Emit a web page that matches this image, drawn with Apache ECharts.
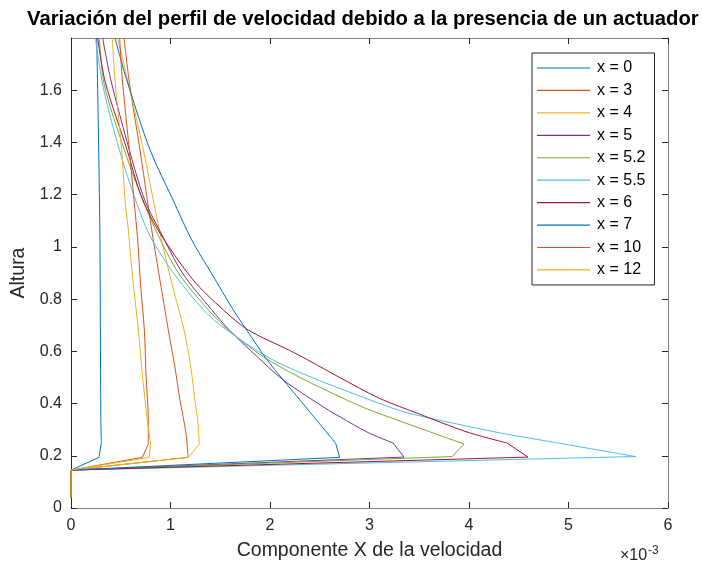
<!DOCTYPE html>
<html><head><meta charset="utf-8">
<script src="https://cdn.jsdelivr.net/npm/echarts@6/dist/echarts.min.js"></script>
<style>html,body{margin:0;padding:0;background:#fff}#c{width:703px;height:566px}</style>
</head><body><div id="c"></div>
<script>
// Velocity (x 1e-3) and height values
const seriesNames = ['x = 0','x = 3','x = 4','x = 5','x = 5.2','x = 5.5','x = 6','x = 7','x = 10','x = 12'];
const colors = ['#0072BD','#D95319','#EDB120','#7E2F8E','#77AC30','#4DBEEE','#A2142F','#0072BD','#D95319','#EDB120'];

const u_x0  = [0,0,0.281,0.305,0.300,0.295,0.290,0.275,0.258];
const h_x0  = [0.04,0.145,0.194,0.248,0.34,0.7,1.06,1.45,1.8];

const u_x3  = [0,0,1.176,1.156,1.095,1.04,0.978,0.827,0.767,0.693,0.59,0.533];
const h_x3  = [0.04,0.145,0.194,0.286,0.414,0.55,0.682,1.027,1.18,1.372,1.62,1.8];

const u_x4  = [0,0,1.18,1.29,1.273,1.245,1.20,1.136,1.02,0.91,0.827,0.727,0.58,0.469];
const h_x4  = [0.04,0.145,0.194,0.245,0.337,0.414,0.55,0.682,0.85,1.027,1.18,1.372,1.62,1.8];

const u_x5  = [0,0,3.347,3.236,2.975,2.704,2.586,2.134,1.87,1.59,1.414,1.12,0.888,0.74,0.586,0.40,0.318];
const h_x5  = [0.04,0.145,0.195,0.249,0.291,0.349,0.375,0.49,0.58,0.682,0.759,0.9,1.065,1.18,1.372,1.64,1.8];

const u_x52 = [0,0,3.83,3.95,3.005,2.77,2.30,1.93,1.58,1.38,1.08,0.85,0.70,0.536,0.335,0.285];
const h_x52 = [0.04,0.145,0.197,0.245,0.375,0.414,0.5,0.58,0.682,0.759,0.9,1.065,1.2,1.372,1.62,1.8];

const u_x55 = [0,0,5.675,4.91,4.28,3.47,3.29,3.005,2.42,2.0,1.565,1.33,1.03,0.79,0.63,0.486,0.33,0.245];
const h_x55 = [0.04,0.145,0.197,0.248,0.29,0.356,0.375,0.414,0.5,0.573,0.682,0.759,0.9,1.045,1.2,1.372,1.6,1.8];

const u_x6  = [0,0,4.593,4.382,3.98,3.50,3.10,2.70,2.38,2.19,1.78,1.53,1.226,0.874,0.70,0.563,0.345,0.268];
const h_x6  = [0.04,0.145,0.195,0.249,0.291,0.36,0.42,0.5,0.567,0.605,0.682,0.759,0.874,1.065,1.2,1.372,1.63,1.8];

const u_x7  = [0,0,2.70,2.66,2.385,2.30,2.134,1.96,1.765,1.631,1.41,1.213,1.025,0.794,0.56,0.442];
const h_x7  = [0.04,0.145,0.194,0.248,0.375,0.414,0.49,0.573,0.682,0.759,0.9,1.027,1.18,1.372,1.64,1.8];

const u_x10 = [0,0,0.717,0.777,0.777,0.755,0.737,0.70,0.67,0.633,0.586,0.516,0.489];
const h_x10 = [0.04,0.145,0.194,0.245,0.337,0.5,0.682,0.85,1.027,1.18,1.372,1.64,1.8];

const u_x12 = [0,0,0.787,0.80,0.767,0.72,0.677,0.62,0.576,0.543,0.509,0.442,0.415];
const h_x12 = [0.04,0.145,0.194,0.248,0.337,0.5,0.682,0.88,1.065,1.18,1.372,1.64,1.8];

// index of the point where the near-wall kinks end and the smooth outer profile starts
const kinkIndex = [3,2,3,3,3,2,3,3,3,3];

const xTicks = [0,1,2,3,4,5,6];
const yTicks = [0,0.2,0.4,0.6,0.8,1,1.2,1.4,1.6];

const U = [u_x0,u_x3,u_x4,u_x5,u_x52,u_x55,u_x6,u_x7,u_x10,u_x12];
const H = [h_x0,h_x3,h_x4,h_x5,h_x52,h_x55,h_x6,h_x7,h_x10,h_x12];

const FF = '"Liberation Sans", Arial, Helvetica, sans-serif';
const chart = echarts.init(document.getElementById('c'), null, {renderer:'canvas'});

const series = [];
seriesNames.forEach((n,i)=>{
  const pts = U[i].map((u,k)=>[u,H[i][k]]);
  const k = kinkIndex[i];
  series.push({
    name:n, type:'line', symbol:'none', smooth:false,
    lineStyle:{color:colors[i], width:1}, itemStyle:{color:colors[i]},
    data: pts.slice(0,k+1), animation:false, z:2+i
  });
  series.push({
    name:n, type:'line', symbol:'none', smooth:0.3,
    lineStyle:{color:colors[i], width:1}, itemStyle:{color:colors[i]},
    data: pts.slice(k), animation:false, z:2+i
  });
});

const axisCommon = {
  type:'value', splitLine:{show:false},
  axisTick:{inside:true, length:6, lineStyle:{color:'#262626', width:1}},
};

chart.setOption({
  animation:false,
  backgroundColor:'#fff',
  grid:{left:71, right:35, top:38, bottom:58, containLabel:false},
  xAxis:[
    Object.assign({}, axisCommon, {
      position:'bottom', min:xTicks[0], max:xTicks[xTicks.length-1], interval:1,
      axisLine:{show:true, onZero:false, lineStyle:{color:'#808080', width:1}},
      axisLabel:{color:'#262626', fontSize:16, fontFamily:FF, margin:10},
      name:'Componente X de la velocidad', nameLocation:'middle', nameGap:33,
      nameTextStyle:{color:'#262626', fontSize:19.5, fontFamily:FF}
    }),
    Object.assign({}, axisCommon, {
      position:'top', min:xTicks[0], max:xTicks[xTicks.length-1], interval:1,
      axisLine:{show:true, onZero:false, lineStyle:{color:'#808080', width:1}},
      axisLabel:{show:false}
    })
  ],
  yAxis:[
    Object.assign({}, axisCommon, {
      position:'left', min:yTicks[0], max:1.8, interval:0.2,
      axisLine:{show:true, onZero:false, lineStyle:{color:'#262626', width:1}},
      axisLabel:{color:'#262626', fontSize:16, fontFamily:FF, margin:9, showMaxLabel:false,
        formatter:v=>String(Math.round(v*10)/10)},
      name:'Altura', nameLocation:'middle', nameGap:37,
      nameTextStyle:{color:'#262626', fontSize:19.5, fontFamily:FF}
    }),
    Object.assign({}, axisCommon, {
      position:'right', min:yTicks[0], max:1.8, interval:0.2,
      axisLine:{show:true, onZero:false, lineStyle:{color:'#808080', width:1}},
      axisLabel:{show:false}
    })
  ],
  legend:{
    orient:'vertical', left:532, top:53, icon:'rect',
    padding:[6,9,6,5], itemGap:4.44, itemWidth:53, itemHeight:1.2,
    backgroundColor:'#fff', borderColor:'#262626', borderWidth:1, borderRadius:0,
    textStyle:{color:'#000', fontSize:16, fontFamily:FF, lineHeight:18, padding:[0,0,0,2]},
    data: seriesNames
  },
  graphic:[
    {type:'text', left:27, top:9, style:{text:'Variación del perfil de velocidad debido a la presencia de un actuador',
      fill:'#000', font:'bold 20.3px '+FF}},
    {type:'text', left:620, top:548, style:{text:'×10', fill:'#262626', font:'16px '+FF}},
    {type:'text', left:648, top:545, style:{text:'-3', fill:'#262626', font:'12px '+FF}}
  ],
  series: series
});
</script></body></html>
